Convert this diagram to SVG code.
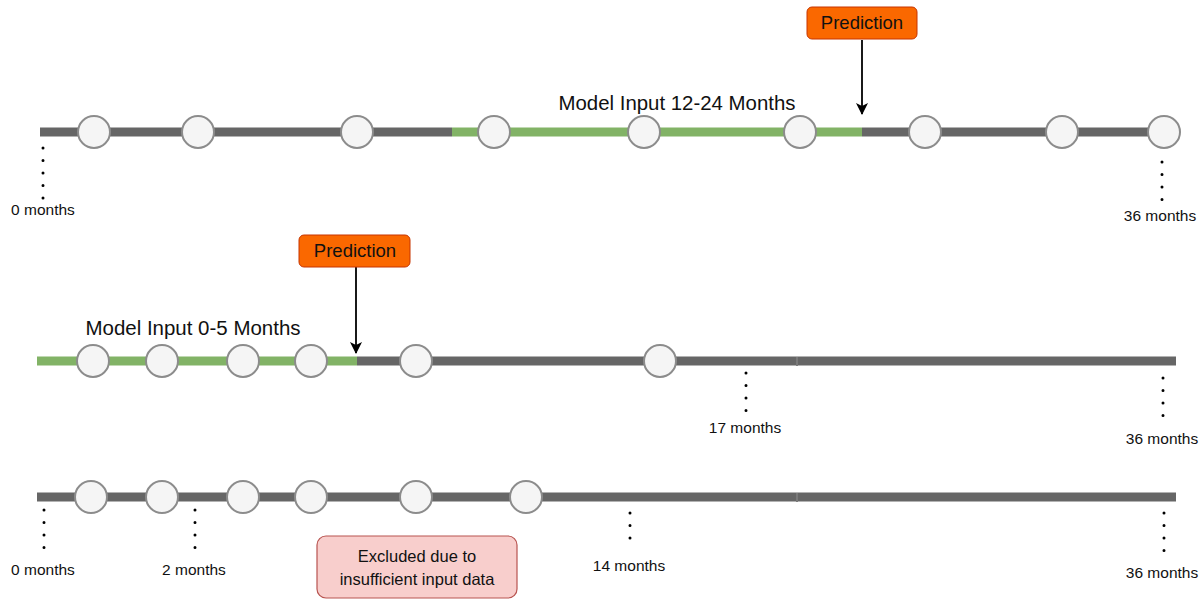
<svg xmlns="http://www.w3.org/2000/svg" width="1201" height="601" viewBox="0 0 1201 601">
<defs>
<style>
.gray{stroke:#666666;stroke-width:9;fill:none}
.green{stroke:#82b366;stroke-width:9;fill:none}
.dot{stroke:#000;stroke-width:3;stroke-linecap:round;stroke-dasharray:0 12.5;fill:none}
.arr{stroke:#000;stroke-width:1.8;fill:none}
.pt{fill:#f5f5f5;stroke:#8c8c8c;stroke-width:2}
.pred{fill:#fa6800;stroke:#c73500;stroke-width:1}
.excl{fill:#f8cecc;stroke:#b85450;stroke-width:1.2}
text{font-family:"Liberation Sans",Arial,Helvetica,sans-serif;fill:#111}
.lbl{font-size:15.5px;text-anchor:middle}
.big{font-size:20px;text-anchor:middle}
.pl{font-size:18.5px;text-anchor:middle}
.ex{font-size:16.5px;text-anchor:middle}
</style>
<marker id="ah" viewBox="0 0 12 12" refX="11" refY="6" markerWidth="12" markerHeight="12" markerUnits="userSpaceOnUse" orient="auto">
<path d="M0,0 L12,6 L0,12 L3,6 Z" fill="#000"/>
</marker>
</defs>
<rect width="1201" height="601" fill="#fff"/>

<g id="connectors">
<line class="gray" x1="40" y1="132" x2="452" y2="132"/>
<line class="green" x1="452" y1="132" x2="862" y2="132"/>
<line class="gray" x1="862" y1="132" x2="1160" y2="132"/>
<line class="green" x1="37" y1="361" x2="357" y2="361"/>
<line class="gray" x1="357" y1="361" x2="797" y2="361"/>
<line class="gray" x1="797" y1="361" x2="1176" y2="361"/>
<rect x="796" y="357" width="2" height="9" fill="#7a7a7a"/>
<line class="gray" x1="37" y1="497" x2="797" y2="497"/>
<line class="gray" x1="797" y1="497" x2="1176" y2="497"/>
<rect x="796" y="493" width="2" height="9" fill="#7a7a7a"/>
<line class="arr" x1="862" y1="40" x2="862" y2="114" marker-end="url(#ah)"/>
<line class="arr" x1="356" y1="267" x2="356" y2="353" marker-end="url(#ah)"/>
<line class="dot" x1="43" y1="148" x2="43" y2="199"/>
<line class="dot" x1="1162" y1="162" x2="1162" y2="200"/>
<line class="dot" x1="746" y1="373" x2="746" y2="412"/>
<line class="dot" x1="1163" y1="378" x2="1163" y2="418"/>
<line class="dot" x1="44" y1="510" x2="44" y2="558"/>
<line class="dot" x1="195" y1="510" x2="195" y2="558"/>
<line class="dot" x1="630" y1="513" x2="630" y2="550"/>
<line class="dot" x1="1164" y1="513" x2="1164" y2="551"/>
</g>

<g id="row1-points">
<circle class="pt" cx="94" cy="132" r="16"/>
<circle class="pt" cx="198" cy="132" r="16"/>
<circle class="pt" cx="357" cy="132" r="16"/>
<circle class="pt" cx="494" cy="132" r="16"/>
<circle class="pt" cx="644" cy="132" r="16"/>
<circle class="pt" cx="800" cy="132" r="16"/>
<circle class="pt" cx="925" cy="132" r="16"/>
<circle class="pt" cx="1062" cy="132" r="16"/>
<circle class="pt" cx="1164" cy="132" r="16"/>
</g>

<g id="row2-points">
<circle class="pt" cx="93" cy="361" r="16"/>
<circle class="pt" cx="162" cy="361" r="16"/>
<circle class="pt" cx="243" cy="361" r="16"/>
<circle class="pt" cx="311" cy="361" r="16"/>
<circle class="pt" cx="416" cy="361" r="16"/>
<circle class="pt" cx="660" cy="361" r="16"/>
</g>

<g id="row3-points">
<circle class="pt" cx="91" cy="497" r="16"/>
<circle class="pt" cx="162" cy="497" r="16"/>
<circle class="pt" cx="243" cy="497" r="16"/>
<circle class="pt" cx="311" cy="497" r="16"/>
<circle class="pt" cx="416" cy="497" r="16"/>
<circle class="pt" cx="526" cy="497" r="16"/>
</g>

<g id="prediction-1">
<rect class="pred" x="807" y="7" width="110" height="32" rx="5"/>
<text class="pl" x="862" y="29">Prediction</text>
</g>
<g id="prediction-2">
<rect class="pred" x="299" y="235" width="111" height="32" rx="5"/>
<text class="pl" x="355" y="257">Prediction</text>
</g>

<g id="label-input-12-24">
<text class="big" x="677" y="110" textLength="237" lengthAdjust="spacingAndGlyphs">Model Input 12-24 Months</text>
</g>
<g id="label-input-0-5">
<text class="big" x="193" y="335" textLength="215" lengthAdjust="spacingAndGlyphs">Model Input 0-5 Months</text>
</g>

<g id="excluded">
<rect class="excl" x="317" y="536" width="200" height="62" rx="9"/>
<text class="ex" x="417" y="562">Excluded due to</text>
<text class="ex" x="417" y="585">insufficient input data</text>
</g>

<g id="month-labels">
<text class="lbl" x="43" y="215">0 months</text>
<text class="lbl" x="1160" y="221">36 months</text>
<text class="lbl" x="745" y="433">17 months</text>
<text class="lbl" x="1162" y="444">36 months</text>
<text class="lbl" x="43" y="575">0 months</text>
<text class="lbl" x="194" y="575">2 months</text>
<text class="lbl" x="629" y="571">14 months</text>
<text class="lbl" x="1162" y="578">36 months</text>
</g>
</svg>
